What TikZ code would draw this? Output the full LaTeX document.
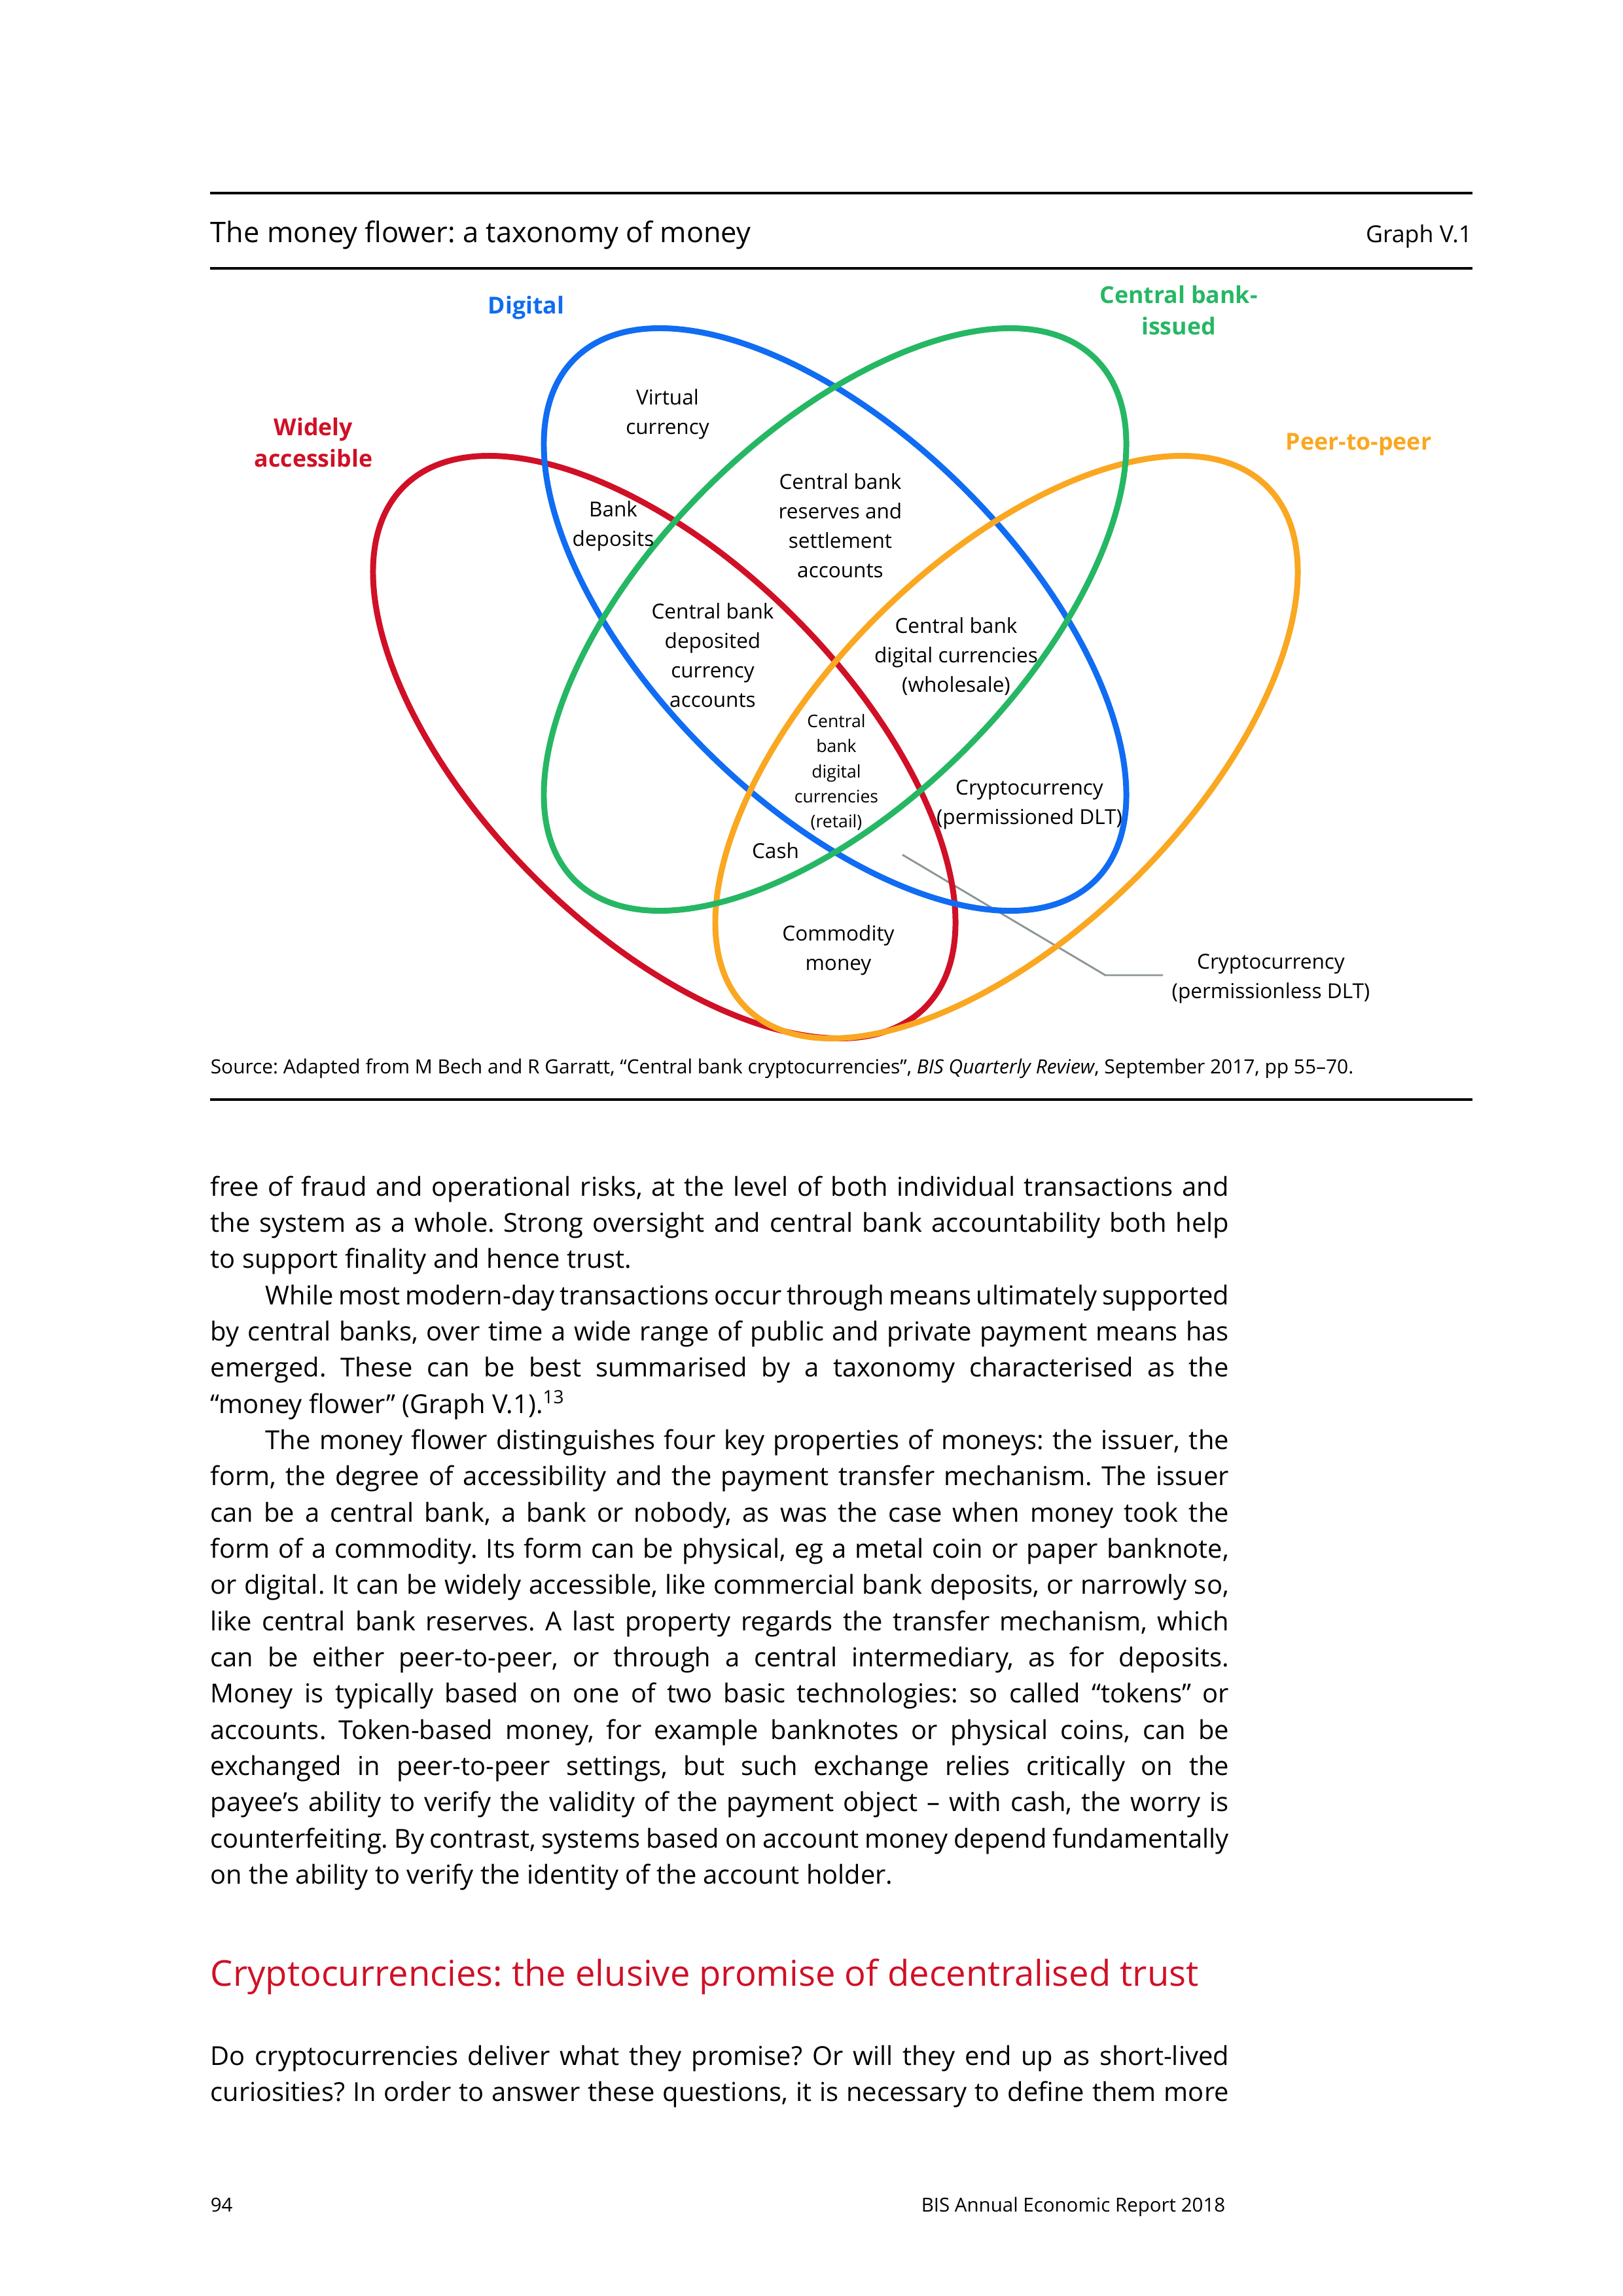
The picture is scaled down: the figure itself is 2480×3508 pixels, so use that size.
\documentclass[tikz,border=0pt]{standalone}
\usepackage{fontspec}
\setmainfont{Open Sans}
\frenchspacing
\definecolor{cbblue}{RGB}{16,108,242}
\definecolor{cbred}{RGB}{208,16,38}
\definecolor{cbgreen}{RGB}{38,183,100}
\definecolor{cborange}{RGB}{250,167,33}
\definecolor{leadergrey}{RGB}{140,150,150}
\newlength\pxu \setlength\pxu{0.0846774mm}
\newlength\bodyw \setlength\bodyw{1556\pxu}
\newcommand\bline[3]{\node[bodyline] (#1) at (321,{#2}) {\hbox to \bodyw{#3}};}
\newcommand\iline[3]{\node[bodyline] (#1) at (321,{#2}) {\hbox to \bodyw{\hskip 84\pxu #3}};}
\newcommand\nline[3]{\node[bodyline] (#1) at (321,{#2}) {#3};}
\begin{document}
\begin{tikzpicture}[x=0.0846774mm, y=-0.0846774mm,
  ring/.style={line width=2.16pt},
  lab/.style={font=\fontsize{7.6}{10.8}\selectfont, align=center, inner sep=0pt},
  smalllab/.style={font=\fontsize{6.4}{9.2}\selectfont, align=center, inner sep=0pt},
  setlab/.style={font=\fontsize{8.6}{11.7}\selectfont\bfseries, align=center, inner sep=0pt},
  bodyline/.style={font=\fontsize{9.6}{13.3}\selectfont\frenchspacing, anchor=base west, inner sep=0pt},
  pagerule/.style={line width=0.9pt},
  leader/.style={leadergrey, line width=0.7pt},
]
\useasboundingbox (0,0) rectangle (2480,3508);

% header
\draw[pagerule] (321,295) -- (2250,295);
\node[anchor=base west, inner sep=0pt, font=\fontsize{10.45}{12}\selectfont] (title) at (321,370) {The money flower: a taxonomy of money};
\node[anchor=base east, inner sep=0pt, font=\fontsize{8.6}{10}\selectfont] (graphno) at (2250,370) {Graph V.1};
\draw[pagerule] (321,410) -- (2250,410);

% leader line (behind rings)
\coordinate (ldstart) at (1379,1306);
\coordinate (ldbend) at (1689,1490);
\coordinate (ldend) at (1777,1490);
\draw[leader] (ldstart) -- (ldbend) -- (ldend);

% rings
\draw[ring, cbred, rotate around={-45:(1015,1141.5)}] (1015,1141.5) ellipse [x radius=563, y radius=281];
\draw[ring, cbblue, rotate around={-45:(1276,946.5)}] (1276,946.5) ellipse [x radius=563, y radius=281];
\draw[ring, cborange, rotate around={45:(1538,1141.5)}] (1538,1141.5) ellipse [x radius=563, y radius=281];
\draw[ring, cbgreen, rotate around={45:(1276,946.5)}] (1276,946.5) ellipse [x radius=563, y radius=281];

% set labels
\node[setlab, text=cbblue] (digital) at (804,470) {Digital};
\node[setlab, text=cbgreen] (cbissued) at (1801,474) {Central bank-\\issued};
\node[setlab, text=cbred] (widely) at (479,676) {Widely\\accessible};
\node[setlab, text=cborange] (p2p) at (2076,679) {Peer-to-peer};

% region labels
\node[lab] (virtual) at (1020,633) {Virtual\\currency};
\node[lab] (bankdep) at (937,804) {Bank\\deposits};
\node[lab] (cbdeposited) at (1089,1001) {Central bank\\deposited\\currency\\accounts};
\node[lab] (cbreserves) at (1284,803) {Central bank\\reserves and\\settlement\\accounts};
\node[lab] (cbwholesale) at (1461,1003) {Central bank\\digital currencies\\(wholesale)};
\node[smalllab] (cbretail) at (1278,1180) {Central\\bank\\digital\\currencies\\(retail)};
\node[lab] (cash) at (1185,1300) {Cash};
\node[lab] (permd) at (1573,1229) {Cryptocurrency\\(permissioned DLT)};
\node[lab] (commodity) at (1281,1452) {Commodity\\money};
\node[lab] (perm) at (1942,1495) {Cryptocurrency\\(permissionless DLT)};

% source and rule
\node[anchor=base west, inner sep=0pt, font=\fontsize{7.2}{9}\selectfont] (src) at (321,1640) {Source: Adapted from M Bech and R Garratt, “Central bank cryptocurrencies”, \textit{BIS Quarterly Review}, September 2017, pp 55–70.};
\draw[pagerule] (321,1680) -- (2250,1680);

% body text
\bline{b0}{1827+55.35*0}{free of fraud and operational risks, at the level of both individual transactions and}
\bline{b1}{1827+55.35*1}{the system as a whole. Strong oversight and central bank accountability both help}
\nline{b2}{1827+55.35*2}{to support finality and hence trust.}
\iline{b3}{1827+55.35*3}{While most modern-day transactions occur through means ultimately supported}
\bline{b4}{1827+55.35*4}{by central banks, over time a wide range of public and private payment means has}
\bline{b5}{1827+55.35*5}{emerged. These can be best summarised by a taxonomy characterised as the}
\nline{b6}{1827+55.35*6}{“money flower” (Graph V.1).\textsuperscript{13}}
\iline{b7}{1827+55.35*7}{The money flower distinguishes four key properties of moneys: the issuer, the}
\bline{b8}{1827+55.35*8}{form, the degree of accessibility and the payment transfer mechanism. The issuer}
\bline{b9}{1827+55.35*9}{can be a central bank, a bank or nobody, as was the case when money took the}
\bline{b10}{1827+55.35*10}{form of a commodity. Its form can be physical, eg a metal coin or paper banknote,}
\bline{b11}{1827+55.35*11}{or digital. It can be widely accessible, like commercial bank deposits, or narrowly so,}
\bline{b12}{1827+55.35*12}{like central bank reserves. A last property regards the transfer mechanism, which}
\bline{b13}{1827+55.35*13}{can be either peer-to-peer, or through a central intermediary, as for deposits.}
\bline{b14}{1827+55.35*14}{Money is typically based on one of two basic technologies: so called “tokens” or}
\bline{b15}{1827+55.35*15}{accounts. Token-based money, for example banknotes or physical coins, can be}
\bline{b16}{1827+55.35*16}{exchanged in peer-to-peer settings, but such exchange relies critically on the}
\bline{b17}{1827+55.35*17}{payee’s ability to verify the validity of the payment object – with cash, the worry is}
\bline{b18}{1827+55.35*18}{counterfeiting. By contrast, systems based on account money depend fundamentally}
\nline{b19}{1827+55.35*19}{on the ability to verify the identity of the account holder.}

% heading
\node[anchor=base west, inner sep=0pt, text=cbred, font=\fontsize{13.1}{16}\selectfont] (heading) at (321,3034) {Cryptocurrencies: the elusive promise of decentralised trust};
\bline{c0}{3155}{Do cryptocurrencies deliver what they promise? Or will they end up as short-lived}
\bline{c1}{3210}{curiosities? In order to answer these questions, it is necessary to define them more}

% footer
\node[anchor=base west, inner sep=0pt, font=\fontsize{7.1}{9}\selectfont] (pagenum) at (321,3379) {94};
\node[anchor=base east, inner sep=0pt, font=\fontsize{7.1}{9}\selectfont] (report) at (1873,3379) {BIS Annual Economic Report 2018};
\end{tikzpicture}
\end{document}
